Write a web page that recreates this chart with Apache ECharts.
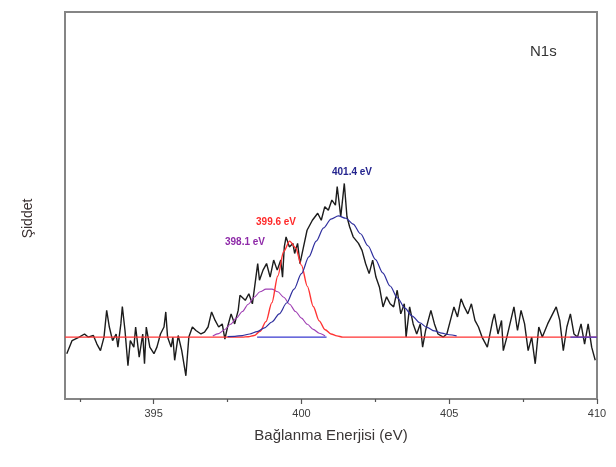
<!DOCTYPE html>
<html>
<head>
<meta charset="utf-8">
<script src="https://cdn.jsdelivr.net/npm/echarts@6/dist/echarts.min.js"></script>
<style>
  html, body { margin: 0; padding: 0; background: #fff; }
  #chart-container { width: 616px; height: 467px; }
</style>
</head>
<body>
<div id="chart-container"></div>
<script>
// ham spektrum (okunan noktalar)
var energy = [
  392.06, 392.24, 392.48, 392.66, 392.78, 392.96, 393.08, 393.20, 393.32, 393.41,
  393.50, 393.61, 393.73, 393.79, 393.89, 393.94, 394.03, 394.13, 394.21, 394.33,
  394.39, 394.51, 394.63, 394.69, 394.75, 394.87, 395.01, 395.11, 395.23, 395.35,
  395.41, 395.47, 395.59, 395.65, 395.71, 395.83, 395.95, 396.09, 396.19, 396.31,
  396.43, 396.60, 396.72, 396.84, 396.96, 397.08, 397.20, 397.32, 397.41, 397.50,
  397.62, 397.74, 397.86, 397.92, 398.10, 398.22, 398.34, 398.46, 398.52, 398.58,
  398.70, 398.82, 398.94, 399.06, 399.18, 399.30, 399.36, 399.42, 399.48, 399.59,
  399.71, 399.77, 399.87, 399.95, 400.07, 400.19, 400.37, 400.55, 400.67, 400.79,
  400.91, 401.03, 401.15, 401.21, 401.33, 401.45, 401.54, 401.63, 401.75, 401.93,
  402.05, 402.17, 402.29, 402.41, 402.52, 402.64, 402.76, 402.88, 403.00, 403.12,
  403.24, 403.36, 403.48, 403.54, 403.66, 403.78, 403.90, 404.02, 404.10, 404.20,
  404.38, 404.50, 404.62, 404.80, 404.92, 405.04, 405.16, 405.28, 405.40, 405.51,
  405.63, 405.75, 405.87, 405.99, 406.11, 406.29, 406.47, 406.53, 406.65, 406.77,
  406.83, 406.95, 407.19, 407.31, 407.43, 407.55, 407.67, 407.79, 407.91, 408.03,
  408.15, 408.33, 408.50, 408.62, 408.74, 408.86, 408.98, 409.10, 409.22, 409.34,
  409.46, 409.58, 409.70, 409.82, 409.94
];
var intensity = [
  11.7, 15.1, 16.0, 16.8, 16.0, 16.4, 14.2, 12.5, 16.0, 22.9,
  18.6, 15.1, 16.8, 13.4, 19.4, 23.9, 17.7, 8.6, 15.1, 13.4,
  18.6, 10.8, 16.8, 9.1, 18.6, 13.4, 11.7, 13.4, 16.8, 18.6,
  22.5, 16.0, 13.4, 16.0, 10.0, 16.4, 12.5, 6.0, 16.0, 18.6,
  17.7, 16.8, 17.3, 18.6, 22.5, 20.3, 18.6, 19.4, 15.5, 18.6,
  22.0, 19.4, 22.9, 26.8, 25.5, 27.2, 24.6, 31.5, 35.0, 30.7,
  33.3, 35.0, 31.5, 35.9, 33.3, 35.9, 31.5, 39.3, 41.9, 39.3,
  40.2, 37.6, 40.2, 35.0, 39.3, 43.6, 46.2, 48.0, 46.2, 49.7,
  48.8, 51.4, 50.1, 54.9, 47.1, 55.7, 47.1, 44.5, 41.9, 40.2,
  38.4, 35.0, 32.4, 35.9, 31.5, 28.9, 23.8, 26.4, 24.6, 23.8,
  28.1, 22.0, 24.6, 16.0, 23.8, 19.4, 16.8, 19.4, 13.4, 17.7,
  22.9, 19.4, 16.8, 16.0, 16.8, 20.3, 23.8, 21.2, 25.9, 23.8,
  22.0, 24.6, 20.3, 18.6, 16.0, 13.4, 20.3, 22.0, 16.8, 20.3,
  12.5, 16.0, 23.8, 17.7, 22.9, 19.4, 12.5, 16.0, 9.1, 18.6,
  16.0, 19.4, 22.0, 23.8, 20.3, 12.5, 18.6, 22.0, 16.8, 16.0,
  19.4, 14.2, 19.4, 13.4, 10.0
];

// 398.1 eV bileşeni (mor)
var purpleEnergy = [397.0, 397.2, 397.4, 397.6, 397.8, 398.0, 398.2, 398.4, 398.6, 398.8,
  399.0, 399.2, 399.4, 399.6, 399.8, 400.0, 400.2, 400.4, 400.6, 400.8];
var purpleIntensity = [16.3, 16.9, 17.9, 19.3, 20.9, 22.6, 24.5, 26.3, 27.7, 28.4,
  28.4, 27.7, 26.3, 24.5, 22.6, 20.9, 19.3, 18.0, 17.0, 16.3];

// 399.6 eV bileşeni (kırmızı), taban çizgisi ile
var redEnergy = [392, 397.8, 398.0, 398.2, 398.4, 398.6, 398.8, 399.0, 399.2, 399.4, 399.6,
  399.8, 400.0, 400.2, 400.4, 400.6, 400.8, 401.0, 401.2, 401.4, 401.6, 401.8, 410];
var redIntensity = [16, 16, 16, 16.1, 16.4, 17.5, 20.0, 24.9, 31.8, 38.1, 40.8,
  39.1, 34.6, 29.1, 23.9, 20.2, 17.9, 16.8, 16.3, 16.0, 16, 16, 16];

// 401.4 eV bileşeni (mavi)
var blueEnergy = [397.5, 397.75, 398.0, 398.25, 398.5, 398.75, 399.0, 399.25, 399.5, 399.75,
  400.0, 400.25, 400.5, 400.75, 401.0, 401.25, 401.5, 401.75, 402.0, 402.25,
  402.5, 402.75, 403.0, 403.25, 403.5, 403.75, 404.0, 404.25, 404.5, 404.75,
  405.0, 405.25];
var blueIntensity = [16.1, 16.2, 16.4, 16.8, 17.4, 18.4, 19.9, 22.0, 24.8, 28.4,
  32.4, 36.7, 40.8, 44.2, 46.5, 47.3, 46.7, 45.2, 42.7, 39.6,
  36.1, 32.6, 29.2, 26.1, 23.5, 21.4, 19.7, 18.5, 17.6, 17.0,
  16.6, 16.3];

// mavi taban parçaları
var baseEnergy = [398.5, 400.85, null, 409.1, 410];
var baseIntensity = [16, 16, null, 16, 16];

// eksen etiketleri
var majorTicks = [395, 400, 405, 410];
var minorTicks = [392.5, 397.5, 402.5, 407.5];

// pik etiketleri
var peakLabels = ['398.1 eV', '399.6 eV', '401.4 eV'];
var peakLabelPos = [[398.09, 40.6], [399.14, 45.7], [401.71, 58.7]];
var peakLabelColors = ['#8e2aa8', '#ff2a2a', '#24248e'];

function pairs(xs, ys) {
  return xs.map(function (x, i) {
    return x === null ? null : [x, ys[i]];
  });
}

var dom = document.getElementById('chart-container');
var myChart = echarts.init(dom);

var labelFont = 'Liberation Sans, Arial, sans-serif';

myChart.setOption({
  animation: false,
  backgroundColor: '#fff',
  grid: {
    left: 65,
    right: 19,
    top: 12,
    bottom: 68,
    show: true,
    borderColor: '#858585',
    borderWidth: 2
  },
  graphic: [{
    type: 'text',
    left: 530,
    top: 44,
    style: {
      text: 'N1s',
      fill: '#333',
      font: '15px Liberation Sans, Arial, sans-serif'
    }
  }],
  xAxis: [{
    type: 'value',
    min: 392,
    max: 410,
    position: 'bottom',
    name: 'Bağlanma Enerjisi (eV)',
    nameLocation: 'middle',
    nameGap: 29,
    nameTextStyle: { fontSize: 15, color: '#3a3636', fontFamily: labelFont },
    axisLine: { show: true, lineStyle: { color: '#858585', width: 2 } },
    axisTick: {
      show: true,
      customValues: majorTicks,
      length: 5,
      lineStyle: { color: '#555', width: 1.2 }
    },
    axisLabel: {
      customValues: majorTicks,
      fontSize: 11,
      color: '#3c3c3c',
      margin: 9,
      fontFamily: labelFont
    },
    splitLine: { show: false }
  }, {
    type: 'value',
    min: 392,
    max: 410,
    position: 'bottom',
    axisLine: { show: false },
    axisTick: {
      show: true,
      customValues: minorTicks,
      length: 3,
      lineStyle: { color: '#555', width: 1.2 }
    },
    axisLabel: { show: false },
    splitLine: { show: false }
  }],
  yAxis: {
    type: 'value',
    min: 0,
    max: 100,
    name: 'Şiddet',
    nameLocation: 'middle',
    nameGap: 30,
    nameTextStyle: {
      fontSize: 14,
      color: '#3a3030',
      fontFamily: labelFont,
      padding: [0, 26, 0, 0]
    },
    axisLine: { show: false },
    axisTick: { show: false },
    axisLabel: { show: false },
    splitLine: { show: false }
  },
  series: [
    {
      type: 'line',
      data: pairs(energy, intensity),
      showSymbol: false,
      lineStyle: { color: '#1c1c1c', width: 1.4 },
      z: 2
    },
    {
      type: 'line',
      data: pairs(purpleEnergy, purpleIntensity),
      showSymbol: false,
      smooth: 0.3,
      smoothMonotone: 'x',
      lineStyle: { color: '#a040b4', width: 1.1 },
      z: 3
    },
    {
      type: 'line',
      data: pairs(redEnergy, redIntensity),
      showSymbol: false,
      smooth: 0.3,
      smoothMonotone: 'x',
      lineStyle: { color: '#ff3333', width: 1.4 },
      z: 4
    },
    {
      type: 'line',
      data: pairs(blueEnergy, blueIntensity),
      showSymbol: false,
      smooth: 0.3,
      smoothMonotone: 'x',
      lineStyle: { color: '#2f2f9e', width: 1.2 },
      z: 5
    },
    {
      type: 'line',
      data: pairs(baseEnergy, baseIntensity),
      showSymbol: false,
      connectNulls: false,
      lineStyle: { color: '#3a3ad0', width: 1.4 },
      z: 5
    },
    {
      type: 'scatter',
      symbolSize: 1,
      silent: true,
      itemStyle: { color: 'rgba(0,0,0,0)', opacity: 1 },
      data: peakLabelPos.map(function (p, i) {
        return {
          value: p,
          label: {
            show: true,
            position: 'inside',
            formatter: peakLabels[i],
            color: peakLabelColors[i],
            fontSize: 10,
            fontWeight: 'bold',
            fontFamily: labelFont
          }
        };
      }),
      z: 6
    }
  ]
});

window.addEventListener('resize', myChart.resize);
</script>
</body>
</html>
